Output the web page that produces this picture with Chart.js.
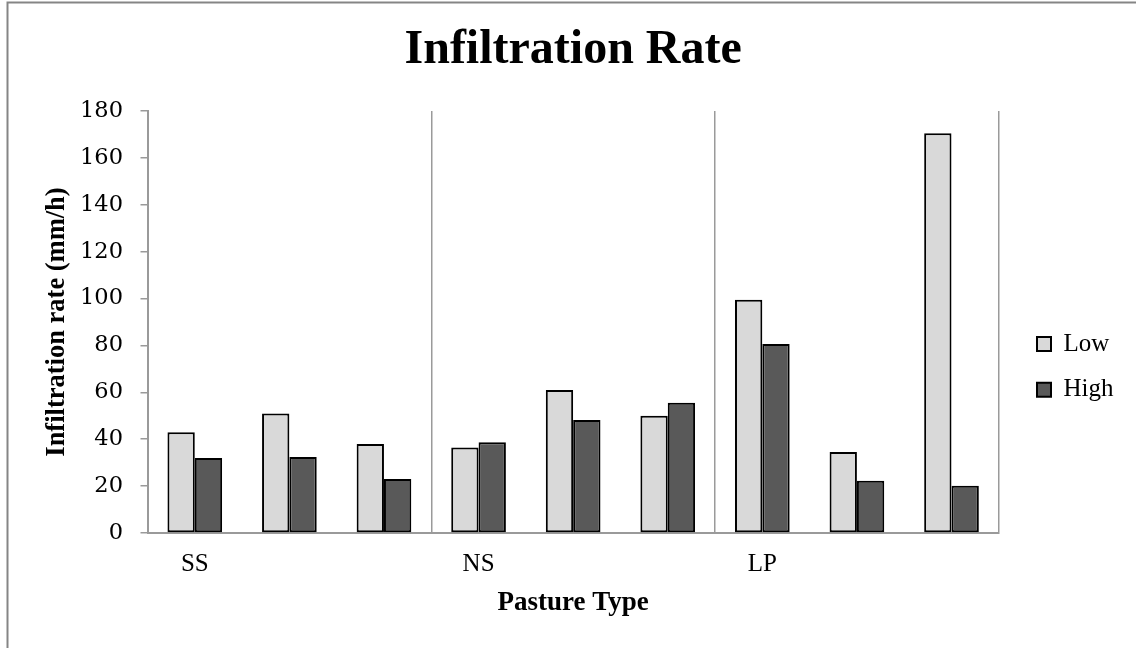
<!DOCTYPE html>
<html>
<head>
<meta charset="utf-8">
<script src="https://cdn.jsdelivr.net/npm/chart.js@4.4.0/dist/chart.umd.min.js"></script>
<style>
  html, body { margin: 0; padding: 0; background: #ffffff; }
  #wrap { width: 1136px; height: 648px; }
</style>
</head>
<body>
<div id="wrap"><canvas id="c" width="1136" height="648"></canvas></div>
<script>
const categories = ['SS', '', '', 'NS', '', '', 'LP', '', ''];
const lowValues  = [43, 51, 38, 36.5, 61, 50, 99.5, 34.5, 170.5];
const highValues = [32, 32.4, 23, 38.7, 48.2, 55.6, 80.6, 22.3, 20.2];
const seriesNames = ['Low', 'High'];
const yTicks = [0, 20, 40, 60, 80, 100, 120, 140, 160, 180];
const groupBoundaries = [3, 6, 9];

const serif = "'Liberation Serif', 'Times New Roman', serif";
const axisGray = '#9a9a9a';

const frame = {
  id: 'frame',
  beforeDraw(chart) {
    const ctx = chart.ctx;
    ctx.save();
    ctx.fillStyle = '#ffffff';
    ctx.fillRect(0, 0, chart.width, chart.height);
    ctx.strokeStyle = '#858585';
    ctx.lineWidth = 2;
    ctx.beginPath();
    ctx.moveTo(7.5, chart.height);
    ctx.lineTo(7.5, 2.5);
    ctx.lineTo(chart.width, 2.5);
    ctx.stroke();
    ctx.restore();
  }
};

const legendShift = {
  id: 'legendShift',
  afterLayout(chart) {
    const lg = chart.legend;
    if (!lg || !lg.columnSizes || !lg.columnSizes.length) return;
    const pad = lg.options.labels.padding;
    const startY = (lg.top + pad + lg.bottom - lg.columnSizes[0].height) / 2;
    const dy = 331.5 - startY;
    const startX = lg.left + pad;
    const dx = 1037 - startX;
    lg.top += dy; lg.bottom += dy;
    lg.left += dx; lg.right += dx;
  }
};

new Chart(document.getElementById('c'), {
  type: 'bar',
  data: {
    labels: categories,
    datasets: [
      { label: seriesNames[0], data: lowValues, backgroundColor: '#d9d9d9', borderColor: '#000000', borderWidth: 2, borderSkipped: false },
      { label: seriesNames[1], data: highValues, backgroundColor: '#595959', borderColor: '#000000', borderWidth: 2, borderSkipped: false }
    ]
  },
  options: {
    responsive: false,
    animation: false,
    layout: { padding: { left: 8, right: 30, top: 3, bottom: 0 } },
    datasets: { bar: { categoryPercentage: 0.578, barPercentage: 1 } },
    plugins: {
      title: {
        display: true,
        text: 'Infiltration Rate',
        fullSize: false,
        color: '#000000',
        font: { family: serif, size: 48, weight: 'bold', lineHeight: 1.2 },
        padding: { top: 18.7, bottom: 31.7 }
      },
      legend: {
        position: 'right',
        labels: {
          color: '#000000',
          font: { family: serif, size: 25 },
          boxWidth: 14,
          boxHeight: 14,
          padding: 20.7
        }
      },
      tooltip: { enabled: false }
    },
    scales: {
      x: {
        offset: true,
        grid: {
          display: true,
          offset: true,
          drawTicks: false,
          color: (ctx) => {
            if (ctx.type !== 'tick') return axisGray;
            return groupBoundaries.includes(ctx.index) ? axisGray : 'rgba(0,0,0,0)';
          },
          lineWidth: 1.5
        },
        border: { display: true, color: axisGray, width: 2 },
        ticks: {
          color: '#000000',
          font: { family: serif, size: 25 },
          padding: 16.6,
          maxRotation: 0,
          autoSkip: false
        },
        title: {
          display: true,
          text: 'Pasture Type',
          color: '#000000',
          font: { family: serif, size: 27, weight: 'bold', lineHeight: 1.2 },
          padding: { top: 0, bottom: 28.8 }
        },
        afterFit(scale) { scale.height = 115; }
      },
      y: {
        min: 0,
        max: 180,
        afterBuildTicks(scale) { scale.ticks = yTicks.map(v => ({ value: v })); },
        grid: {
          display: true,
          drawOnChartArea: false,
          drawTicks: true,
          tickLength: 7,
          color: axisGray,
          lineWidth: 1.5
        },
        border: { display: true, color: axisGray, width: 2 },
        ticks: {
          color: '#000000',
          font: { family: "'DejaVu Serif', serif", size: 22.5 },
          padding: 17.5
        },
        title: {
          display: true,
          text: 'Infiltration rate (mm/h)',
          color: '#000000',
          font: { family: serif, size: 26.5, weight: 'bold', lineHeight: 1.2 },
          padding: { top: 33, bottom: 0 }
        },
        afterFit(scale) { scale.width = 139.5; }
      }
    }
  },
  plugins: [frame, legendShift]
});
</script>
</body>
</html>
